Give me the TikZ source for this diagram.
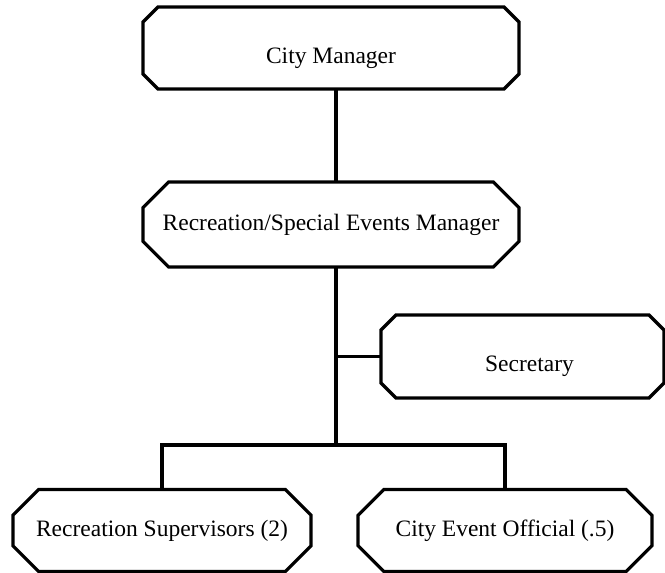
\documentclass[tikz,border=0pt]{standalone}
\usepackage{fontspec}
\setmainfont{Liberation Serif}
\usetikzlibrary{shapes.misc}
\newcommand{\lowered}[2]{\raisebox{-#1}[0pt][0pt]{#2}}
\begin{document}
\begin{tikzpicture}[x=1pt,y=-1pt,
  post/.style={chamfered rectangle, chamfered rectangle xsep=17pt,
    chamfered rectangle ysep=15pt, draw, line width=3.2pt, fill=white,
    inner sep=0pt, outer sep=0pt,
    font=\fontsize{23.5}{28}\selectfont},
  link/.style={line width=3.2pt}]
\useasboundingbox (0,0) rectangle (665,573);
\clip (0,0) rectangle (665,573);
\fill[white] (0,0) rectangle (665,573);
% posts
\node[post, minimum width=376pt, minimum height=82pt] (cm) at (331,48) {\lowered{15pt}{City Manager}};
\node[post, minimum width=376pt, minimum height=85pt] (rsem) at (331,224.5) {Recreation/Special Events Manager};
\node[post, minimum width=283pt, minimum height=83pt] (sec) at (522.5,356.5) {\hspace{14pt}\lowered{14.5pt}{Secretary}};
\node[post, minimum width=298pt, minimum height=82pt] (rs) at (162,530.5) {Recreation Supervisors (2)};
\node[post, minimum width=294pt, minimum height=82pt] (ceo) at (505,530.5) {City Event Official (.5)};
% reporting lines
\coordinate (trunk) at (336,0);
\coordinate (bus) at (336,445);
\draw[link] (cm.south -| trunk) -- (rsem.north -| trunk);
\draw[link] (rsem.south -| trunk) -- (bus);
\draw[link] (sec.west) -- (sec.west -| trunk);
\draw[link] (rs.north) |- (bus) -| (ceo.north);
\end{tikzpicture}
\end{document}
